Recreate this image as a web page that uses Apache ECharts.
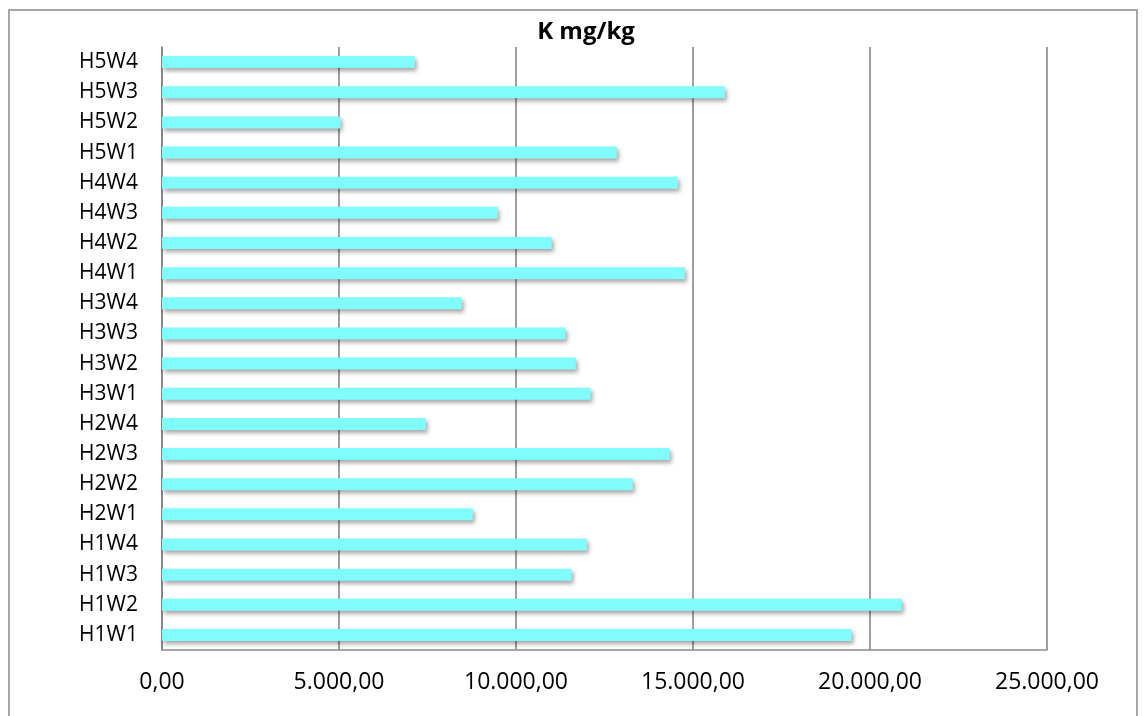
<!DOCTYPE html>
<html>
<head>
<meta charset="utf-8">
<script src="https://cdn.jsdelivr.net/npm/echarts@6/dist/echarts.min.js"></script>
<style>
  html, body { margin: 0; padding: 0; background: #ffffff; }
  #chart { width: 1145px; height: 716px; }
</style>
</head>
<body>
<div id="chart"></div>
<script>
// Sample codes, bottom to top
const categories = [
  'H1W1', 'H1W2', 'H1W3', 'H1W4',
  'H2W1', 'H2W2', 'H2W3', 'H2W4',
  'H3W1', 'H3W2', 'H3W3', 'H3W4',
  'H4W1', 'H4W2', 'H4W3', 'H4W4',
  'H5W1', 'H5W2', 'H5W3', 'H5W4'
];

// Potassium content, mg/kg
const kValues = [
  19480, 20900, 11570, 12000,
  8780, 13300, 14340, 7450,
  12110, 11690, 11400, 8470,
  14770, 11010, 9480, 14570,
  12850, 5040, 15900, 7140
];

const titleText = 'K mg/kg';
const axisMin = 0;
const axisMax = 25000;
const axisStep = 5000;

// 12345.6 -> "12.345,60"
function fmt(v) {
  const parts = Number(v).toFixed(2).split('.');
  const intPart = parts[0].replace(/\B(?=(\d{3})+(?!\d))/g, '.');
  return intPart + ',' + parts[1];
}

const chart = echarts.init(document.getElementById('chart'), null, { renderer: 'canvas' });

const FONT = '"Open Sans", "Noto Sans", sans-serif';

chart.setOption({
  backgroundColor: '#ffffff',
  animation: false,
  title: {
    text: titleText,
    left: 581,
    top: 15,
    textAlign: 'center',
    textStyle: { fontFamily: FONT, fontWeight: 'bold', fontSize: 24, color: '#000000' }
  },
  graphic: [{
    type: 'rect',
    shape: { x: 9, y: 10, width: 1128, height: 720 },
    style: { fill: 'none', stroke: '#8c8c8c', lineWidth: 1.5 },
    silent: true,
    z: -1
  }],
  grid: { left: 162, right: 98, top: 47, bottom: 66, containLabel: false },
  xAxis: {
    type: 'value',
    min: axisMin,
    max: axisMax,
    interval: axisStep,
    axisLine: { show: true, lineStyle: { color: '#8c8c8c', width: 1.5 } },
    axisTick: { show: false },
    splitLine: { show: true, lineStyle: { color: '#7f7f7f', width: 1.5 } },
    axisLabel: {
      margin: 21,
      fontFamily: FONT,
      fontSize: 23,
      color: '#000000',
      formatter: fmt
    }
  },
  yAxis: {
    type: 'category',
    data: categories,
    axisLine: { show: true, lineStyle: { color: '#7f7f7f', width: 1.5 } },
    axisTick: { show: false },
    splitLine: { show: false },
    axisLabel: {
      margin: 24,
      fontFamily: FONT,
      fontSize: 21,
      color: '#000000'
    }
  },
  series: [{
    type: 'bar',
    data: kValues,
    barWidth: 12,
    itemStyle: {
      color: '#80fcfc',
      shadowColor: 'rgba(0,0,0,0.35)',
      shadowBlur: 4,
      shadowOffsetX: 2,
      shadowOffsetY: 3
    }
  }]
});
</script>
</body>
</html>
